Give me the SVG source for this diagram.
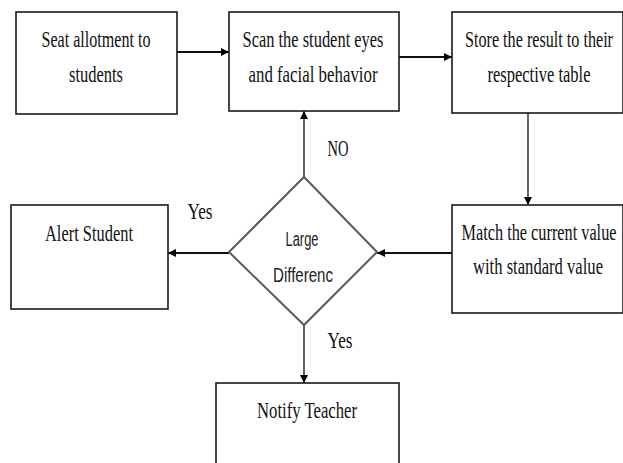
<svg xmlns="http://www.w3.org/2000/svg" width="623" height="463" viewBox="0 0 623 463">
<style>
.box{fill:#fff;stroke:#1a1a1a;stroke-width:1.6}
.dia{fill:#fff;stroke:#5a5a5a;stroke-width:2}
.t{font-family:"Liberation Serif","Times New Roman",serif;font-size:24px;fill:#111;text-anchor:middle}
.s{font-family:"Liberation Sans","Noto Sans",Arial,sans-serif;font-size:20px;fill:#222;text-anchor:middle}
.c{stroke:#111;fill:none}
.h{stroke-width:2}
.v{stroke-width:1.3}
</style>
<defs>
<marker id="ah" viewBox="0 0 10 10" refX="10" refY="5" markerWidth="8" markerHeight="8" markerUnits="userSpaceOnUse" orient="auto">
<path d="M0,0 L10,5 L0,10 Z" fill="#000"/>
</marker>
</defs>
<rect width="623" height="463" fill="#fff"/>
<g id="connectors">
<line class="c h" x1="177" y1="52" x2="229" y2="52" marker-end="url(#ah)"/>
<line class="c h" x1="399" y1="57" x2="452" y2="57" marker-end="url(#ah)"/>
<line class="c v" x1="528" y1="113" x2="528" y2="205" marker-end="url(#ah)"/>
<line class="c h" x1="452" y1="253" x2="377" y2="253" marker-end="url(#ah)"/>
<line class="c h" x1="229" y1="253" x2="168" y2="253" marker-end="url(#ah)"/>
<line class="c v" x1="304" y1="177" x2="304" y2="111" marker-end="url(#ah)"/>
<line class="c v" x1="304" y1="325" x2="304" y2="383" marker-end="url(#ah)"/>
<text class="t" x="338" y="156" textLength="21" lengthAdjust="spacingAndGlyphs">NO</text>
<text class="t" x="200" y="219" textLength="25" lengthAdjust="spacingAndGlyphs">Yes</text>
<text class="t" x="340" y="348" textLength="25" lengthAdjust="spacingAndGlyphs">Yes</text>
</g>
<g id="seat">
<rect class="box" x="16" y="12" width="161" height="102"/>
<text class="t" x="96" y="47" textLength="109" lengthAdjust="spacingAndGlyphs">Seat allotment to</text>
<text class="t" x="96" y="82" textLength="54" lengthAdjust="spacingAndGlyphs">students</text>
</g>
<g id="scan">
<rect class="box" x="229" y="12" width="170" height="99"/>
<text class="t" x="313" y="47" textLength="141" lengthAdjust="spacingAndGlyphs">Scan the student eyes</text>
<text class="t" x="313" y="82" textLength="129" lengthAdjust="spacingAndGlyphs">and facial behavior</text>
</g>
<g id="store">
<rect class="box" x="452" y="12" width="171" height="101"/>
<text class="t" x="539" y="47" textLength="148" lengthAdjust="spacingAndGlyphs">Store the result to their</text>
<text class="t" x="539" y="82" textLength="103" lengthAdjust="spacingAndGlyphs">respective table</text>
</g>
<g id="match">
<rect class="box" x="452" y="205" width="171" height="108"/>
<text class="t" x="539" y="240" textLength="155" lengthAdjust="spacingAndGlyphs">Match the current value</text>
<text class="t" x="538" y="274" textLength="130" lengthAdjust="spacingAndGlyphs">with standard value</text>
</g>
<g id="decision">
<polygon class="dia" points="304,177 377,252 304,325 229,252"/>
<text class="s" x="302" y="246" textLength="33" lengthAdjust="spacingAndGlyphs">Large</text>
<text class="s" x="303" y="282" textLength="60" lengthAdjust="spacingAndGlyphs">Differenc</text>
</g>
<g id="alert">
<rect class="box" x="11" y="205" width="157" height="104"/>
<text class="t" x="89" y="241" textLength="88" lengthAdjust="spacingAndGlyphs">Alert Student</text>
</g>
<g id="notify">
<rect class="box" x="216" y="383" width="183" height="90"/>
<text class="t" x="307" y="418" textLength="100" lengthAdjust="spacingAndGlyphs">Notify Teacher</text>
</g>
</svg>
